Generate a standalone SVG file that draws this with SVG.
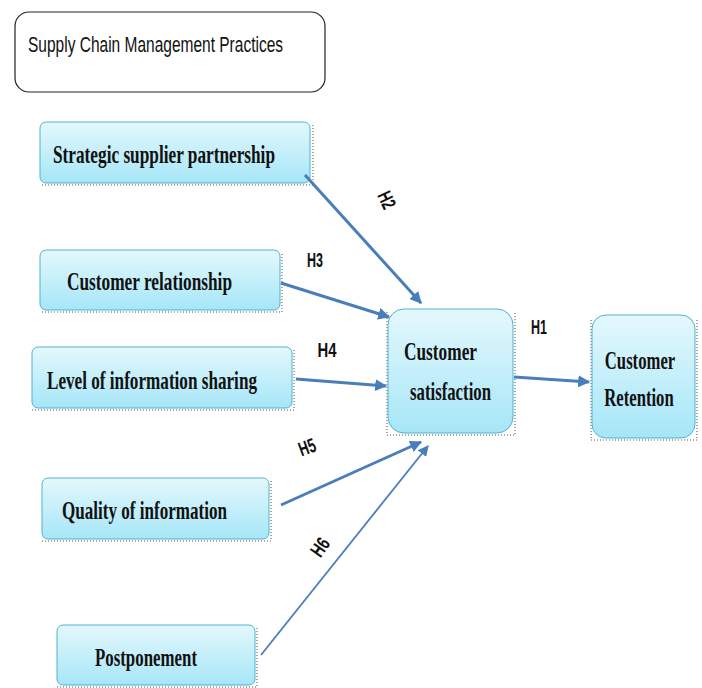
<svg xmlns="http://www.w3.org/2000/svg" width="702" height="688" viewBox="0 0 702 688">
<defs>
<linearGradient id="g" x1="0" y1="0" x2="0" y2="1">
<stop offset="0" stop-color="#e4f8fd"/>
<stop offset="1" stop-color="#a6e6f8"/>
</linearGradient>
<marker id="ah" viewBox="0 0 10 10" refX="9" refY="5" markerWidth="4" markerHeight="4" orient="auto" markerUnits="strokeWidth">
<path d="M0,0 L10,5 L0,10 z" fill="#4a7ebb"/>
</marker>
<marker id="ah2" viewBox="0 0 10 10" refX="9" refY="5" markerWidth="6" markerHeight="6" orient="auto" markerUnits="strokeWidth">
<path d="M0,0 L10,5 L0,10 z" fill="#4a7ebb"/>
</marker>
</defs>
<style>
.n{fill:url(#g);stroke:#4fb3cf;stroke-width:1}
.sh{fill:none;stroke:#555;stroke-width:1;stroke-dasharray:1 2}
.t{font-family:"Liberation Serif","Times New Roman",serif;font-weight:bold;font-size:25px;fill:#111}
.m{text-anchor:middle}
.c{stroke:#4a7ebb;stroke-width:3;fill:none;marker-end:url(#ah)}
.c2{stroke:#4a7ebb;stroke-width:1.8;fill:none;marker-end:url(#ah2)}
.l{font-family:"Liberation Sans",Arial,sans-serif;font-weight:bold;font-size:20px;fill:#111}
</style>
<rect width="702" height="688" fill="#fff"/>
<g id="title">
<rect x="15" y="12" width="310" height="80" rx="14" fill="#fff" stroke="#222" stroke-width="1.2"/>
<text x="28" y="52" font-family="Liberation Sans,Arial,sans-serif" font-size="22" fill="#111" textLength="255" lengthAdjust="spacingAndGlyphs">Supply Chain Management Practices</text>
</g>
<g id="n-ssp">
<path class="sh" d="M42,185 H313 V124"/>
<rect class="n" x="40" y="122" width="270" height="61" rx="6"/>
<text class="t" x="53" y="163" textLength="222" lengthAdjust="spacingAndGlyphs">Strategic supplier partnership</text>
</g>
<g id="n-cr">
<path class="sh" d="M42,312 H282 V252"/>
<rect class="n" x="40" y="250" width="240" height="60" rx="6"/>
<text class="t" x="67" y="290" textLength="165" lengthAdjust="spacingAndGlyphs">Customer relationship</text>
</g>
<g id="n-lis">
<path class="sh" d="M32,410 H294 V349"/>
<rect class="n" x="32" y="347" width="260" height="61" rx="6"/>
<text class="t" x="47" y="389" textLength="210" lengthAdjust="spacingAndGlyphs">Level of information sharing</text>
</g>
<g id="n-qi">
<path class="sh" d="M42,541 H271 V480"/>
<rect class="n" x="42" y="478" width="227" height="61" rx="6"/>
<text class="t" x="62" y="519" textLength="165" lengthAdjust="spacingAndGlyphs">Quality of information</text>
</g>
<g id="n-pp">
<path class="sh" d="M57,687 H257 V627"/>
<rect class="n" x="57" y="625" width="198" height="60" rx="6"/>
<text class="t" x="95" y="666" textLength="102" lengthAdjust="spacingAndGlyphs">Postponement</text>
</g>
<g id="n-cs">
<path class="sh" d="M387,312 V435 H515 V312"/>
<rect class="n" x="388" y="309" width="125" height="124" rx="16"/>
<text class="t m" x="440.5" y="360" textLength="73" lengthAdjust="spacingAndGlyphs">Customer</text>
<text class="t m" x="450.5" y="400" textLength="81" lengthAdjust="spacingAndGlyphs">satisfaction</text>
</g>
<g id="n-ret">
<path class="sh" d="M591,320 V440 H697 V320"/>
<rect class="n" x="592" y="315" width="103" height="123" rx="14"/>
<text class="t m" transform="translate(640,369) scale(0.667,1)">Customer</text>
<text class="t m" transform="translate(639,406) scale(0.667,1)">Retention</text>
</g>
<g id="connectors">
<line class="c" x1="305" y1="175" x2="421" y2="303"/>
<line class="c" x1="281" y1="283" x2="389" y2="317"/>
<line class="c" x1="296" y1="379" x2="386" y2="386"/>
<line class="c" x1="281" y1="505" x2="421" y2="442"/>
<line class="c2" x1="261" y1="655" x2="428" y2="446"/>
<line class="c" x1="514" y1="377" x2="589" y2="382"/>
</g>
<g id="labels">
<text class="l" transform="translate(387,200) rotate(65)" text-anchor="middle" dominant-baseline="central" textLength="17" lengthAdjust="spacingAndGlyphs">H2</text>
<text class="l" x="315" y="260" text-anchor="middle" dominant-baseline="central" textLength="16" lengthAdjust="spacingAndGlyphs">H3</text>
<text class="l" x="327" y="350" text-anchor="middle" dominant-baseline="central" textLength="19" lengthAdjust="spacingAndGlyphs">H4</text>
<text class="l" transform="translate(307,447) rotate(-20)" text-anchor="middle" dominant-baseline="central" textLength="17" lengthAdjust="spacingAndGlyphs">H5</text>
<text class="l" transform="translate(320,547) rotate(-55)" text-anchor="middle" dominant-baseline="central" textLength="18" lengthAdjust="spacingAndGlyphs">H6</text>
<text class="l" x="539" y="327" text-anchor="middle" dominant-baseline="central" textLength="16" lengthAdjust="spacingAndGlyphs">H1</text>
</g>
</svg>
